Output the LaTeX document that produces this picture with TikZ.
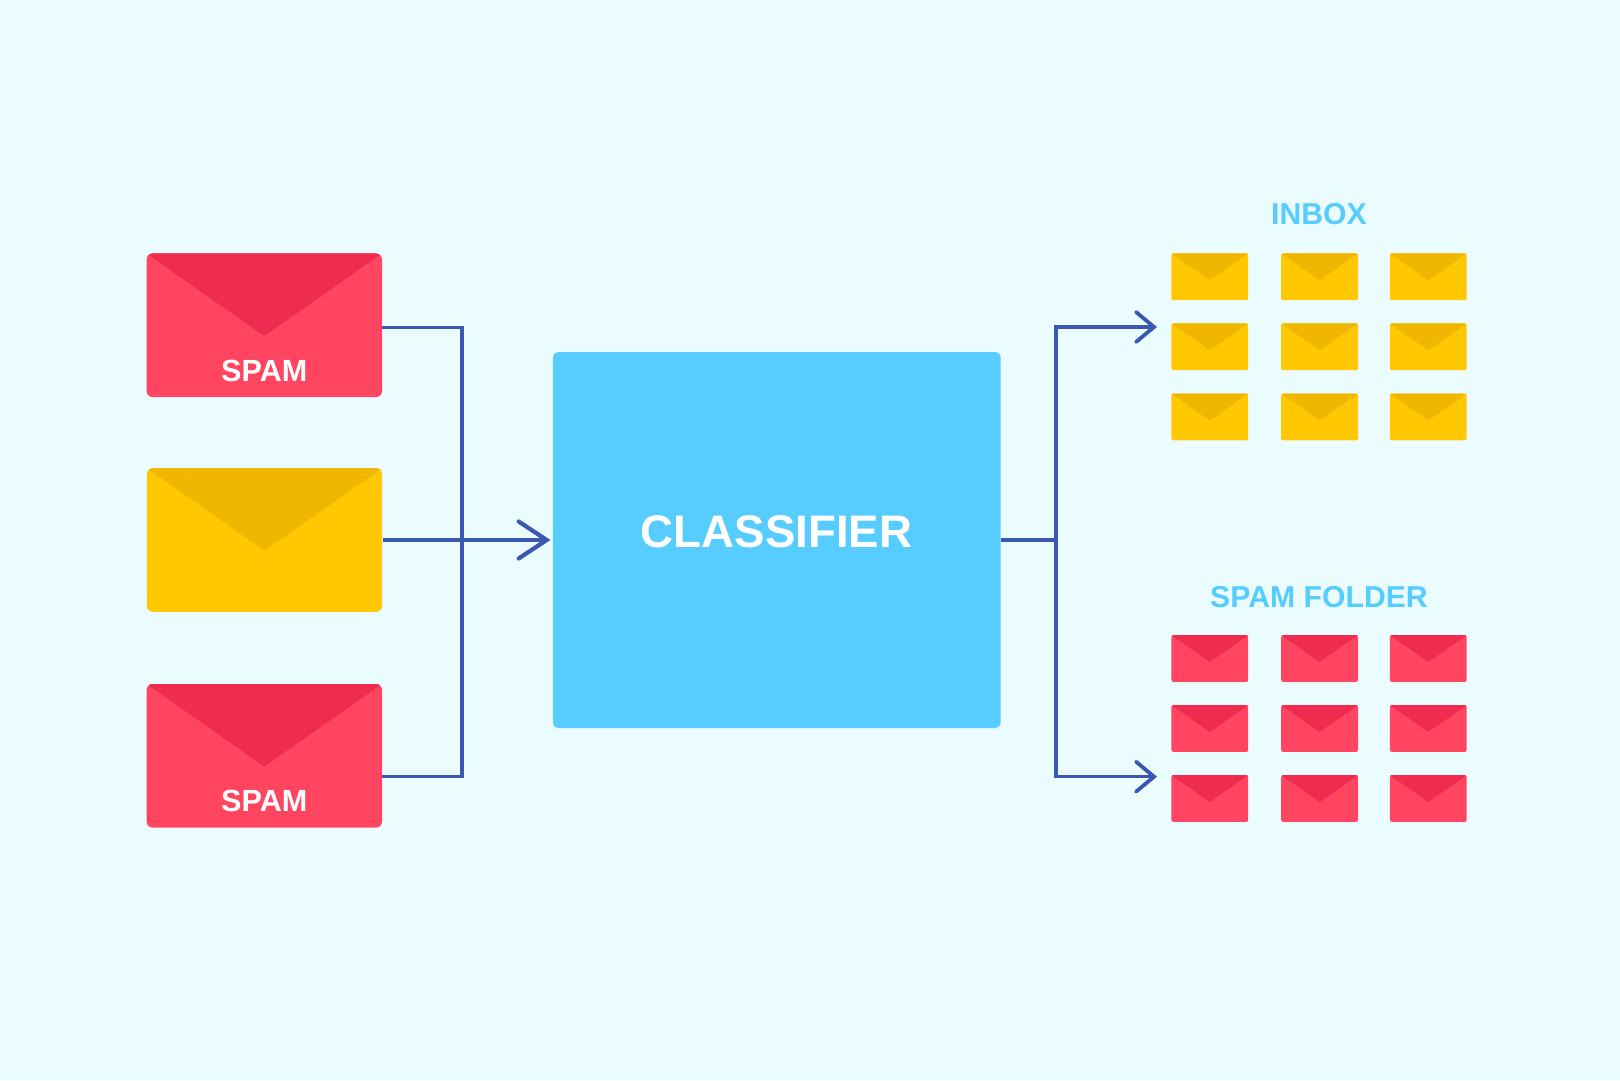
\documentclass[tikz,border=0pt]{standalone}
\usepackage{fontspec}
\setmainfont{Liberation Sans}
\usetikzlibrary{arrows.meta,calc}
\definecolor{bgblue}{HTML}{EBFCFF}
\definecolor{mailred}{HTML}{FF4560}
\definecolor{flapred}{HTML}{F02B50}
\definecolor{mailyellow}{HTML}{FFC800}
\definecolor{flapyellow}{HTML}{EFB700}
\definecolor{boxblue}{HTML}{57CCFF}
\definecolor{wireblue}{HTML}{3A58B0}
\newcommand{\flap}[1]{\fill[#1, sharp corners] (path picture bounding box.north west) -- ($(path picture bounding box.north)!.575!(path picture bounding box.south)$) -- (path picture bounding box.north east) -- cycle;}
\tikzstyle{mail}=[rectangle, inner sep=0pt, minimum width=117.7pt, minimum height=71.8pt, rounded corners=3pt]
\tikzstyle{small}=[minimum width=38.4pt, minimum height=23.4pt, rounded corners=1pt]
\tikzstyle{redmail}=[mail, fill=mailred, path picture={\flap{flapred}}]
\tikzstyle{yellowmail}=[mail, fill=mailyellow, path picture={\flap{flapyellow}}]
\tikzstyle{wire}=[wireblue, line width=1.7pt, line join=miter]
\tikzstyle{mailtext}=[inner sep=0pt, text=white, font=\fontsize{15.3}{17}\selectfont\bfseries]
\tikzstyle{foldertext}=[inner sep=0pt, text=boxblue, font=\fontsize{15.1}{17}\selectfont\bfseries]
\newcommand{\mailnode}{\node[redmail]}
\begin{document}
\begin{tikzpicture}[x=.5pt,y=-.5pt]
\fill[bgblue] (0,0) rectangle (1620,1080);
\useasboundingbox (0,0) rectangle (1620,1080);
%big envelopes
\mailnode (spam1) at (264.3,325.3){};
\node[yellowmail] (ham) at (264.5,540){};
\mailnode (spam2) at (264.3,755.8){};
\node[mailtext] (spamtext1) at (264.3,371){SPAM};
\node[mailtext] (spamtext2) at (264.3,801){SPAM};
%classifier
\node[rectangle, fill=boxblue, inner sep=0pt, minimum width=223.8pt, minimum height=188pt, rounded corners=2.5pt] (classifier) at (776.7,540){};
\node[inner sep=0pt, text=white, font=\fontsize{22.8}{26}\selectfont\bfseries] (classifiertext) at (776.5,532){CLASSIFIER};
%small envelopes
\node[foldertext] (inboxtext) at (1319,214){INBOX};
\node[foldertext] (spamfoldertext) at (1319,597){SPAM FOLDER};
\foreach \i/\x in {1/1209.8,2/1319.6,3/1428.3}{
	\foreach \j/\y in {1/276.8,2/346.8,3/417}{
		\node[yellowmail, small] (in\i\j) at (\x,\y){};
	}
	\foreach \j/\y in {1/658.5,2/728.5,3/798.5}{
		\node[redmail, small] (sp\i\j) at (\x,\y){};
	}
}
%connectors
\coordinate (lefthub) at (462,540);
\coordinate (righthub) at (1056,540);
\coordinate (inboxend) at (1157,327);
\coordinate (spamend) at (1157,776.7);
\draw[wire] ([yshift=-1pt]spam1.east) -| (lefthub) |- ([yshift=-10.4pt]spam2.east);
\draw[wire, shorten >=1pt, -{Straight Barb[length=14pt, width=18.5pt, line width=2.1pt, line cap=round]}] (ham.east) -- (classifier.west);
\draw[wire] (classifier.east) -- (righthub);
\draw[wire, -{Straight Barb[length=9pt, width=15pt, line width=1.9pt, line cap=round]}] (righthub) |- (inboxend);
\draw[wire, -{Straight Barb[length=9pt, width=15pt, line width=1.9pt, line cap=round]}] (righthub) |- (spamend);
\end{tikzpicture}
\end{document}
